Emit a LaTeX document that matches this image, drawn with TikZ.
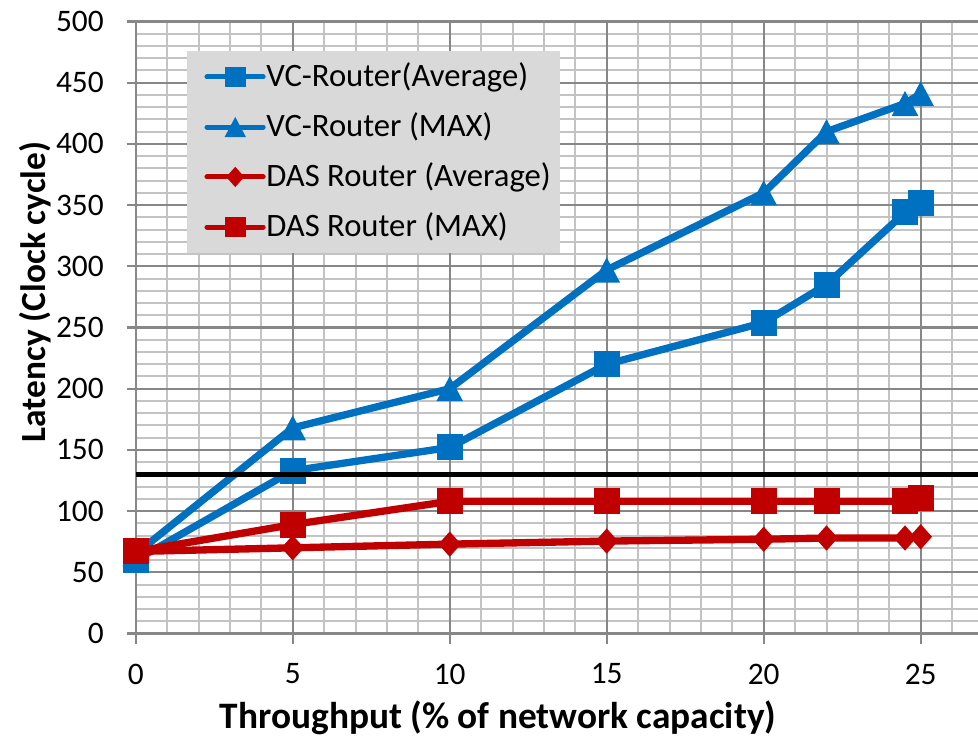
\documentclass[tikz,border=0pt]{standalone}
\usepackage{fontspec}
\setmainfont{Carlito}
\usepackage{tikz}
\usetikzlibrary{positioning,calc}
\definecolor{vcblue}{HTML}{0070C0}
\definecolor{dasred}{HTML}{C00000}
\definecolor{majorgrid}{HTML}{878787}
\definecolor{minorgrid}{HTML}{C3C3C3}
\definecolor{legendgray}{HTML}{D9D9D9}

\begin{document}
\begin{tikzpicture}[x=23.55pt, y=0.918pt,
    minorline/.style={minorgrid, line width=1.5pt},
    majorline/.style={majorgrid, line width=1.6pt},
    series/.style={line width=5.5pt, line join=round},
    legline/.style={line width=3.75pt, line cap=round},
    ticklabel/.style={inner sep=0pt, font=\fontsize{23.5}{28}\selectfont},
    legtext/.style={inner sep=0pt, anchor=west, font=\fontsize{24.5}{28}\selectfont},
    axistitle/.style={inner sep=0pt, font=\fontsize{28}{32}\selectfont\bfseries},
    sqmark/.pic={\fill (-9.75pt,-9.75pt) rectangle (9.75pt,9.75pt);},
    trimark/.pic={\fill (-10pt,-9.4pt) -- (10pt,-9.4pt) -- (0pt,9.4pt) -- cycle;},
    diamark/.pic={\fill (-8.5pt,0pt) -- (0pt,9.5pt) -- (8.5pt,0pt) -- (0pt,-9.5pt) -- cycle;}]
    \useasboundingbox (-4.322,-87.83) rectangle (26.825,517.57);

    % Grid, minor then major
    \foreach \xx in {1,...,26} \draw[minorline] (\xx,0) -- (\xx,500);
    \foreach \yy in {10,20,...,490} \draw[minorline] (0,\yy) -- (26.825,\yy);
    \foreach \xx in {5,10,...,25} \draw[majorline] (\xx,-8.2) -- (\xx,500);
    \foreach \yy in {50,100,...,500} \draw[majorline] (-0.287,\yy) -- (26.825,\yy);
    \draw[majorline] (0,-8.2) -- (0,500);
    \draw[majorline] (-0.287,0) -- (26.825,0);

    % Tick labels
    \foreach \yy in {0,50,...,500} \node[ticklabel, anchor=east] (yl\yy) at (-1.01,\yy) {\yy};
    \foreach \xx in {0,5,...,25} \node[ticklabel] (xl\xx) at (\xx,-33.1) {\xx};

    % Axis titles
    \node[axistitle, rotate=90, font=\fontsize{26.5}{30}\selectfont\bfseries] (ytitle) at (-3.2,279) {Latency (Clock cycle)};
    \node[axistitle] (xtitle) at (11.54,-69) {Throughput (\% of network capacity)};

    % VC-Router (Average)
    \draw[series, vcblue] plot coordinates {(0,60) (5,133) (10,152) (15,220) (20,254) (22,285) (24.5,344) (25,352)};
    \foreach \xx/\yy in {0/60,5/133,10/152,15/220,20/254,22/285,24.5/344,25/352}
        \path (\xx,\yy) pic[fill=vcblue] {sqmark};

    % VC-Router (MAX)
    \draw[series, vcblue] plot coordinates {(0,65) (5,168) (10,200) (15,297) (20,360) (22,410) (24.5,433) (25,441)};
    \foreach \xx/\yy in {0/65,5/168,10/200,15/297,20/360,22/410,24.5/433,25/441}
        \path (\xx,\yy) pic[fill=vcblue] {trimark};

    % DAS Router (Average)
    \draw[series, dasred] plot coordinates {(0,67) (5,70) (10,73) (15,75.5) (20,77) (22,78) (24.5,78) (25,79)};
    \foreach \xx/\yy in {0/67,5/70,10/73,15/75.5,20/77,22/78,24.5/78,25/79}
        \path (\xx,\yy) pic[fill=dasred] {diamark};

    % DAS Router (MAX)
    \draw[series, dasred] plot coordinates {(0,67) (5,89) (10,108) (15,108) (20,108) (22,108) (24.5,108) (25,111)};
    \foreach \xx/\yy in {0/67,5/89,10/108,15/108,20/108,22/108,24.5/108,25/111}
        \path (\xx,\yy) pic[fill=dasred] {sqmark};

    % Threshold line
    \coordinate (thrA) at (0,130);
    \coordinate (thrB) at (26.825,130);
    \draw[line width=3.75pt] (thrA) -- (thrB);

    % Legend
    \fill[legendgray] (1.634,310.9) rectangle (13.513,475.9);
    \foreach \yy/\col/\mk/\txt [count=\i] in {454.7/vcblue/sqmark/VC-Router(Average),
            413.8/vcblue/trimark/VC-Router (MAX),
            373.0/dasred/diamark/DAS Router (Average),
            332.1/dasred/sqmark/DAS Router (MAX)} {
        \draw[legline, \col] (2.27,\yy) -- (4.06,\yy);
        \path (3.17,\yy) pic[fill=\col, scale=0.8] {\mk};
        \node[legtext] (leg\i) at (4.15,\yy) {\txt};
    }
\end{tikzpicture}
\end{document}
